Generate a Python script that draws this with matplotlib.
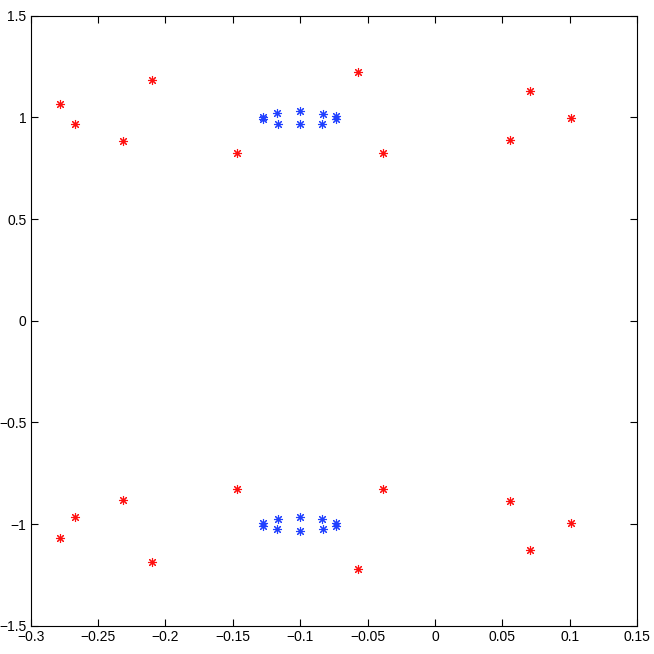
import matplotlib
matplotlib.use('Agg')
import matplotlib.pyplot as plt
from matplotlib.ticker import FuncFormatter

############################# Data #############################

red_x = [-0.2784, -0.2673, -0.2316, -0.2101, -0.147, -0.0572, -0.0386, 0.0557, 0.0705, 0.101,
         -0.2784, -0.2673, -0.2316, -0.2101, -0.147, -0.0572, -0.0386, 0.0557, 0.0705, 0.101]
red_y = [1.064, 0.966, 0.882, 1.182, 0.823, 1.222, 0.823, 0.887, 1.128, 0.995,
         -1.069, -0.966, -0.882, -1.187, -0.828, -1.222, -0.828, -0.887, -1.128, -0.995]

blue_x = [-0.1279, -0.1279, -0.1175, -0.1168, -0.1002, -0.1002, -0.0834, -0.0841, -0.0735, -0.0735,
          -0.1279, -0.1279, -0.1168, -0.1175, -0.1002, -0.1002, -0.0841, -0.0834, -0.0735, -0.0735]
blue_y = [1.002, 0.990, 1.023, 0.969, 1.031, 0.966, 1.018, 0.969, 1.005, 0.990,
          -0.994, -1.010, -0.975, -1.026, -0.967, -1.033, -0.975, -1.026, -0.994, -1.010]

xticks = [-0.3, -0.25, -0.2, -0.15, -0.1, -0.05, 0, 0.05, 0.1, 0.15]
yticks = [-1.5, -1, -0.5, 0, 0.5, 1, 1.5]

def fmt(v, pos):
    s = '%g' % v
    return s.replace('-', '\u2212')

def main():
    plt.rcParams['font.family'] = ['Liberation Sans', 'DejaVu Sans']
    fig = plt.figure(figsize=(6.54, 6.54), dpi=100)
    ax = fig.add_axes([0.047, 0.043, 0.927, 0.933])

    star = (8, 2, 0)
    ax.plot(red_x, red_y, linestyle='none', marker=star, markersize=6.5,
            markeredgewidth=0.8, color='#ff1010')
    ax.plot(blue_x, blue_y, linestyle='none', marker=star, markersize=6.5,
            markeredgewidth=0.8, color='#2040ff')

    ax.set_xlim(-0.3, 0.15)
    ax.set_ylim(-1.5, 1.5)
    ax.set_xticks(xticks)
    ax.set_yticks(yticks)
    ax.xaxis.set_major_formatter(FuncFormatter(fmt))
    ax.yaxis.set_major_formatter(FuncFormatter(fmt))
    ax.tick_params(direction='in', top=True, right=True, length=5, width=0.8,
                   labelsize=10, pad=3)
    for s in ax.spines.values():
        s.set_linewidth(0.8)

    fig.savefig('out.png', dpi=100)
    plt.close()

if __name__ == "__main__":
    main()
